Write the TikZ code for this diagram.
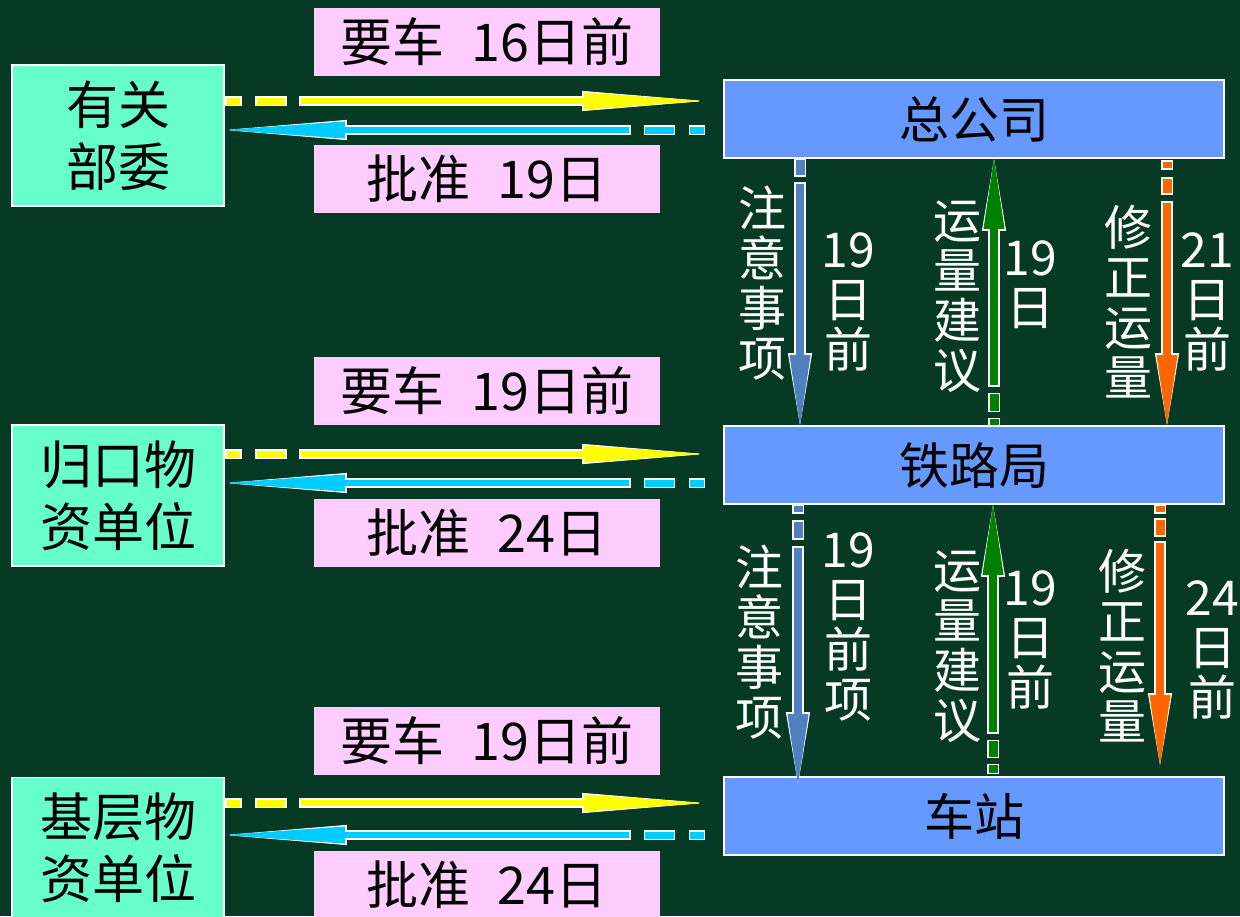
\documentclass[tikz,border=0pt]{standalone}
\usepackage{fontspec}
\setmainfont{Noto Sans CJK SC}
\usetikzlibrary{arrows.meta, calc}

\definecolor{bg}{RGB}{6,58,36}
\definecolor{aqua}{HTML}{66FFCC}
\definecolor{boxblue}{HTML}{6699FF}
\definecolor{tagpink}{HTML}{FFCCFF}
\definecolor{yel}{HTML}{FFFF00}
\definecolor{cya}{HTML}{00CCFF}
\definecolor{blu}{HTML}{5080C0}
\definecolor{grn}{HTML}{008000}
\definecolor{org}{HTML}{FF6600}

\tikzset{
    dept/.style={draw=white, line width=0.8pt, fill=aqua, minimum width=106pt, minimum height=70.5pt,
        align=center, font=\fontsize{26}{31}\selectfont},
    unit/.style={draw=white, line width=0.8pt, fill=boxblue, minimum width=250pt, minimum height=39pt,
        font=\fontsize{25}{30}\selectfont},
    tag/.style={fill=tagpink, minimum width=173pt, minimum height=34pt, font=\fontsize{26}{30}\selectfont},
    vlabel/.style={text=white, align=center, inner sep=0pt, font=\fontsize{24}{25}\selectfont},
    stub/.style={draw=white, line width=0.7pt, fill=#1},
    hflow/.style={draw=#1, line width=3.4pt,
        preaction={draw=white, line width=4.9pt, shorten <=-0.75pt,
            -{Triangle[length=61pt, width=10pt, line width=0.4pt]}},
        -{Triangle[length=60pt, width=8.4pt, line width=0.4pt]}},
    vflow/.style={draw=#1, line width=4.4pt,
        preaction={draw=white, line width=5.9pt, shorten <=-0.75pt,
            -{Triangle[length=36pt, width=12pt, line width=0.4pt]}},
        -{Triangle[length=35pt, width=10.4pt, line width=0.4pt]}},
}

\begin{document}
\begin{tikzpicture}[x=0.5pt, y=-0.5pt]
    \fill[bg] (0,0) rectangle (1240,916);
    \useasboundingbox (0,0) rectangle (1240,916);

    \node[tag] (ya1) at (487,41.5) {要车\hspace{0.3em} 16日前};
    \node[tag] (pz1) at (487,179) {批准\hspace{0.3em} 19日};
    \node[tag] (ya2) at (487,390.5) {要车\hspace{0.3em} 19日前};
    \node[tag] (pz2) at (487,532.5) {批准\hspace{0.3em} 24日};
    \node[tag] (ya3) at (487,740.5) {要车\hspace{0.3em} 19日前};
    \node[tag] (pz3) at (487,885) {批准\hspace{0.3em} 24日};

    \node[dept] (yg) at (118,135.5) {有关\\部委};
    \node[dept] (gk) at (118,495.5) {归口物\\资单位};
    \node[dept] (jc) at (118,848) {基层物\\资单位};

    \node[unit] (zgs) at (974,119) {总公司};
    \node[unit] (tlj) at (974,465) {铁路局};
    \node[unit] (cz) at (974,816) {车站};

    \foreach \l/\r/\ya/\yb in {yg/zgs/101/130, gk/tlj/454/483, jc/cz/803/835} {
        \coordinate (ra) at (0,\ya);
        \coordinate (rb) at (0,\yb);
        \draw[stub=yel] (ra -| \l.east) ++(1,-4.2) rectangle ++(15,8.4);
        \draw[stub=yel] (ra -| \l.east) ++(31,-4.2) rectangle ++(30,8.4);
        \draw[hflow=yel, shorten >=9.5pt] ($(ra -| \l.east)+(76,0)$) -- (ra -| \r.west);
        \draw[hflow=cya] ($(rb -| \r.west)+(-94,0)$) -- (rb -| \l.east);
        \draw[stub=cya] (rb -| \r.west) ++(-79,-4.2) rectangle ++(30,8.4);
        \draw[stub=cya] (rb -| \r.west) ++(-34,-4.2) rectangle ++(15,8.4);
    }

    % 总公司 -- 铁路局
    \coordinate (c1) at (800,0);
    \coordinate (c2) at (994,0);
    \coordinate (c3) at (1167,0);
    \draw[stub=blu] (c1 |- zgs.south) ++(-5.2,0) rectangle ++(10.4,17);
    \draw[vflow=blu] ($(c1 |- zgs.south)+(0,25)$) -- (c1 |- tlj.north);
    \draw[stub=grn] (c2 |- tlj.north) ++(-5.2,-32) rectangle ++(10.4,18);
    \draw[stub=grn] (c2 |- tlj.north) ++(-5.2,-7) rectangle ++(10.4,7);
    \draw[vflow=grn] ($(c2 |- tlj.north)+(0,-40)$) -- (c2 |- zgs.south);
    \draw[stub=org] (c3 |- zgs.south) ++(-5.2,2) rectangle ++(10.4,8);
    \draw[stub=org] (c3 |- zgs.south) ++(-5.2,19) rectangle ++(10.4,16);
    \draw[vflow=org] ($(c3 |- zgs.south)+(0,44)$) -- (c3 |- tlj.north);

    % 铁路局 -- 车站
    \coordinate (d1) at (798,0);
    \coordinate (d2) at (993,0);
    \coordinate (d3) at (1160,0);
    \draw[stub=blu] (d1 |- tlj.south) ++(-5.2,0) rectangle ++(10.4,8);
    \draw[stub=blu] (d1 |- tlj.south) ++(-5.2,16) rectangle ++(10.4,18);
    \draw[vflow=blu, shorten >=-4pt] ($(d1 |- tlj.south)+(0,43)$) -- (d1 |- cz.north);
    \draw[stub=grn] (d2 |- cz.north) ++(-5.2,-36) rectangle ++(10.4,17);
    \draw[stub=grn] (d2 |- cz.north) ++(-5.2,-12) rectangle ++(10.4,9);
    \draw[vflow=grn] ($(d2 |- cz.north)+(0,-44)$) -- (d2 |- tlj.south);
    \draw[stub=org] (d3 |- tlj.south) ++(-5.2,0) rectangle ++(10.4,8);
    \draw[stub=org] (d3 |- tlj.south) ++(-5.2,14) rectangle ++(10.4,17);
    \draw[vflow=org, shorten >=5.5pt] ($(d3 |- tlj.south)+(0,38)$) -- (d3 |- cz.north);

    \node[vlabel] (zy1) at (762,283) {注\\意\\事\\项};
    \node[vlabel] (rq1) at (848,302) {19\\日\\前};
    \node[vlabel] (jy1) at (957,297) {运\\量\\建\\议};
    \node[vlabel] (rq2) at (1030,285) {19\\日};
    \node[vlabel] (xz1) at (1128,302) {修\\正\\运\\量};
    \node[vlabel] (rq3) at (1207,302) {21\\日\\前};

    \node[vlabel] (zy2) at (759,642) {注\\意\\事\\项};
    \node[vlabel] (rq4) at (848,627) {19\\日\\前\\项};
    \node[vlabel] (jy2) at (957,647) {运\\量\\建\\议};
    \node[vlabel] (rq5) at (1030,640) {19\\日\\前};
    \node[vlabel] (xz2) at (1122,646) {修\\正\\运\\量};
    \node[vlabel] (rq6) at (1212,650) {24\\日\\前};
\end{tikzpicture}
\end{document}
